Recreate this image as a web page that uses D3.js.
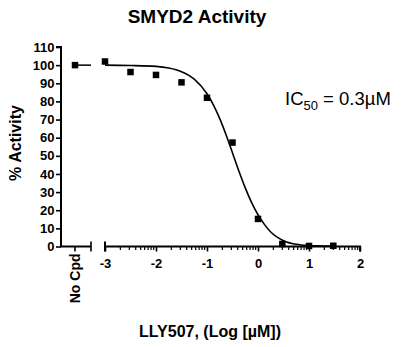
<!DOCTYPE html>
<html><head><meta charset="utf-8">
<script src="https://cdn.jsdelivr.net/npm/d3@7"></script>
<style>
html,body{margin:0;padding:0;background:#fff;}
text{font-family:"Liberation Sans",Arial,sans-serif;}
</style></head>
<body><svg id="c" width="404" height="347"></svg>
<script>
// data
const title = "SMYD2 Activity";
const yLabel = "% Activity";
const xLabel = "LLY507, (Log [µM])";
const controlLabel = "No Cpd";
const controlValue = 100;
const fitTop = 100;
const logConc = [-3, -2.5, -2, -1.5, -1, -0.5, 0, 0.477, 1, 1.477];
const activity = [102, 96.2, 94.6, 90.5, 82, 57.3, 15.2, 1.4, 0.3, 0.4];
const curveX = [-3, -2.5, -2, -1.75, -1.5, -1.25, -1, -0.875, -0.75, -0.625, -0.5, -0.375, -0.25, -0.125, 0, 0.125, 0.25, 0.5, 0.75, 1, 1.25, 1.477];
const curveY = [100, 99.8, 99.3, 98.4, 96.4, 92.3, 84.2, 78.1, 70.5, 61.5, 51.6, 41.6, 32.3, 24.2, 17.5, 12.2, 8.0, 3.2, 1.2, 0.5, 0.3, 0.2];
const yTicks = [0,10,20,30,40,50,60,70,80,90,100,110];
const xTicks = [-3,-2,-1,0,1,2];

const FONT = "Liberation Sans, Arial, sans-serif";
const svg = d3.select("#c");
const y = d3.scaleLinear().domain([0,110]).range([246.5,47]);
const x = d3.scaleLinear().domain([-3,2]).range([105,360]);
const xc = d3.scaleBand().domain([controlLabel]).range([61,91]);
const cx = xc(controlLabel) + xc.bandwidth()/2 - 1;

// title
svg.append("text").attr("x",197).attr("y",23).attr("text-anchor","middle")
  .attr("font-weight","bold").attr("font-size",19).text(title);

// y axis
const ya = svg.append("g").attr("transform","translate(61,0)")
  .call(d3.axisLeft(y).tickValues(yTicks).tickSize(5).tickPadding(1.5));
ya.select(".domain").attr("stroke-width",2).attr("d","M-5,47H0V246.5");
ya.selectAll(".tick line").attr("stroke-width",1.6);
ya.selectAll(".tick text").attr("font-weight","bold").attr("font-size",13).attr("font-family",FONT).attr("fill","#000");

// control x segment
const g1 = svg.append("g").attr("transform","translate(0,246.5)");
g1.append("line").attr("x1",60).attr("x2",91).attr("stroke","#000").attr("stroke-width",2);
g1.append("line").attr("x1",91).attr("x2",91).attr("y1",-5).attr("y2",5).attr("stroke","#000").attr("stroke-width",1.6);
g1.append("line").attr("x1",cx).attr("x2",cx).attr("y1",0).attr("y2",5).attr("stroke","#000").attr("stroke-width",1.6);
g1.append("text").attr("transform",`translate(${cx+5},${7}) rotate(-90)`).attr("text-anchor","end")
  .attr("font-weight","bold").attr("font-size",14).text(controlLabel);

// main x axis
const xa = svg.append("g").attr("transform","translate(0,246.5)")
  .call(d3.axisBottom(x).tickValues(xTicks).tickSize(5).tickPadding(7).tickFormat(d3.format("d")));
xa.select(".domain").attr("stroke-width",2).attr("d","M105,-5V5M105,0H360V5");
xa.selectAll(".tick line").attr("stroke-width",1.6);
xa.selectAll(".tick text").attr("font-weight","bold").attr("font-size",13).attr("font-family",FONT).attr("fill","#000")
  .text(d => d < 0 ? "-" + Math.abs(d) : d);
// minor log ticks
const minor = [];
for (let d = -3; d < 2; d++) for (let k = 2; k <= 9; k++) minor.push(d + Math.log10(k));
xa.selectAll(".minor").data(minor).join("line").attr("class","minor")
  .attr("x1",d=>x(d)).attr("x2",d=>x(d)).attr("y1",0).attr("y2",3.5)
  .attr("stroke","#000").attr("stroke-width",1.2);

// curve in control segment
svg.append("line").attr("x1",cx).attr("x2",91).attr("y1",y(fitTop)).attr("y2",y(fitTop))
  .attr("stroke","#000").attr("stroke-width",1.5);
// fit curve
const line = d3.line().x((d,i)=>x(curveX[i])).y(d=>y(d)).curve(d3.curveMonotoneX);
svg.append("path").attr("d",line(curveY)).attr("fill","none").attr("stroke","#000").attr("stroke-width",1.6);

// points
const s = 6.5;
svg.append("rect").attr("x",cx-s/2).attr("y",y(controlValue)-s/2).attr("width",s).attr("height",s).attr("fill","#000");
svg.selectAll(".pt").data(activity).join("rect").attr("class","pt")
  .attr("x",(d,i)=>x(logConc[i])-s/2).attr("y",d=>y(d)-s/2).attr("width",s).attr("height",s).attr("fill","#000");

// IC50 annotation
const t = svg.append("text").attr("x",285).attr("y",105).attr("font-size",18.5);
t.append("tspan").text("IC");
t.append("tspan").attr("font-size",13).attr("dy",5).text("50");
t.append("tspan").attr("dy",-5).text(" = 0.3µM");

// axis labels
svg.append("text").attr("transform","translate(21,143) rotate(-90)").attr("text-anchor","middle")
  .attr("font-weight","bold").attr("font-size",16).text(yLabel);
svg.append("text").attr("x",210).attr("y",337).attr("text-anchor","middle")
  .attr("font-weight","bold").attr("font-size",16).text(xLabel);
</script></body></html>
